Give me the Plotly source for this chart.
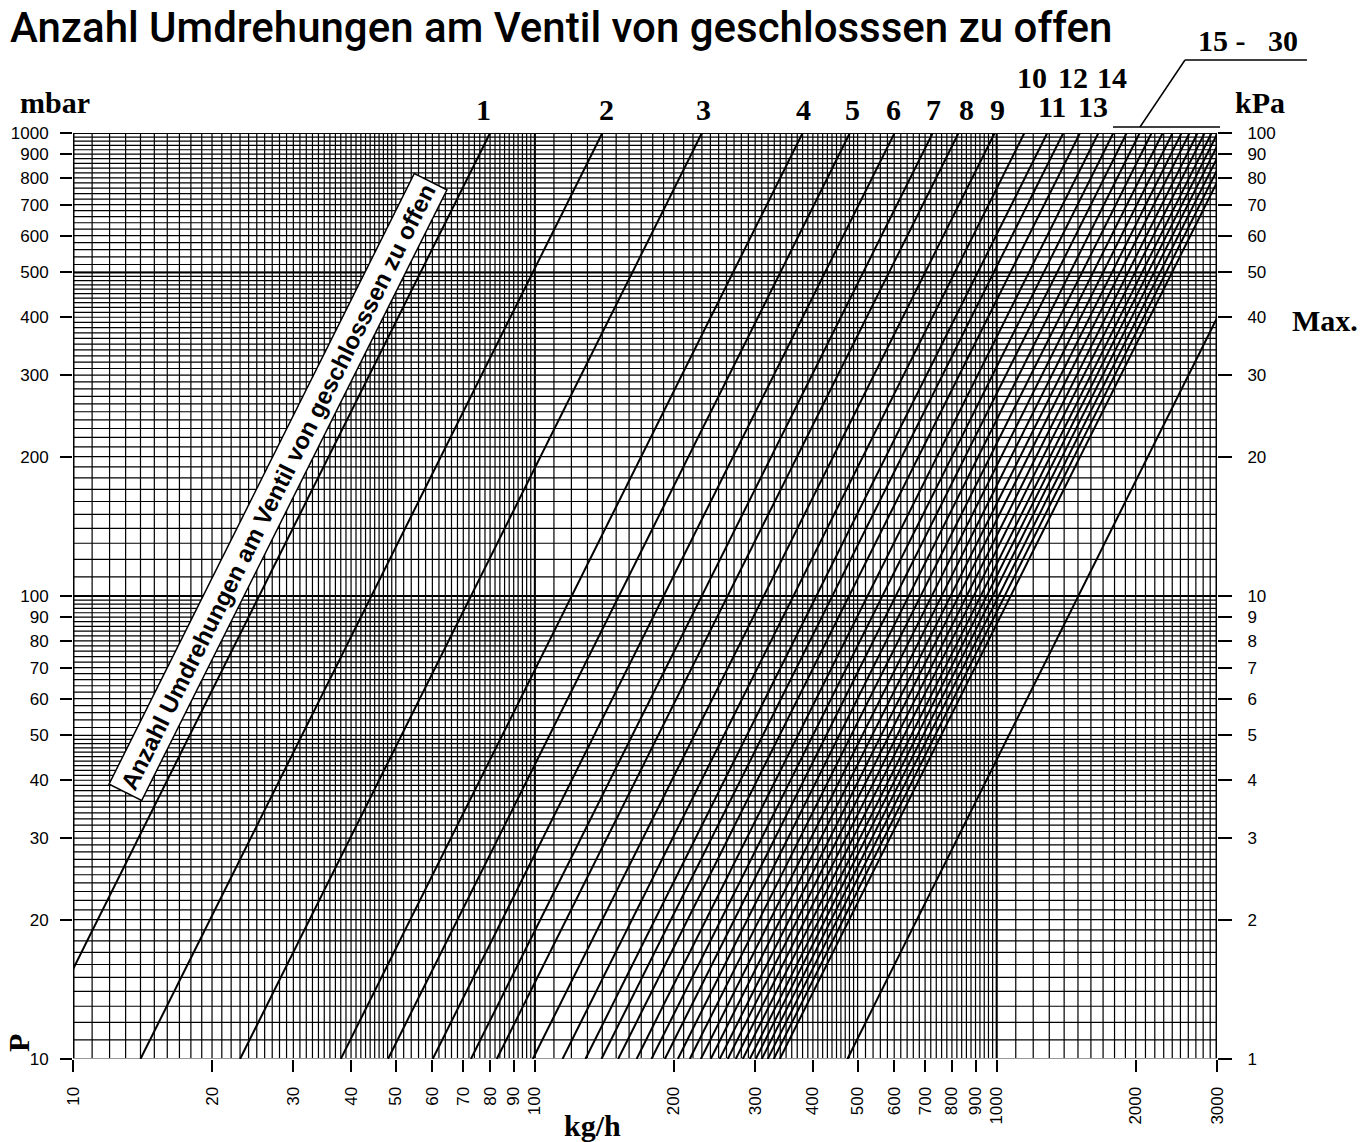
import plotly.graph_objects as go
import numpy as np

# ---------------- data ----------------
turn_labels = ["1", "2", "3", "4", "5", "6", "7", "8", "9", "10", "11", "12", "13", "14",
               "15", "16", "17", "18", "19", "20", "21", "22", "23", "24", "25", "26",
               "27", "28", "29", "30", "Max."]
# flow (kg/h) of each curve at 10 mbar and at 1000 mbar
q_at_10mbar = [8.0, 14.0, 23.0, 38.0, 48.1, 60.1, 72.7, 82.7, 99.0, 114.8, 128.7, 139.4,
               151.5, 166.1, 178.9, 191.2, 204.0, 216.5, 228.8, 240.4, 251.4, 261.7,
               272.3, 282.0, 292.0, 300.9, 310.0, 319.4, 329.1, 339.1, 475.2]
q_at_1000mbar = [80.0, 140.0, 230.0, 380.0, 481.0, 601.0, 727.0, 827.0, 990.0, 1148.0,
                 1287.0, 1394.0, 1515.0, 1661.0, 1789.0, 1912.0, 2040.0, 2165.0, 2288.0,
                 2404.0, 2514.0, 2617.0, 2723.0, 2820.0, 2920.0, 3009.0, 3100.0, 3194.0,
                 3291.0, 3391.0, 4752.0]
p_low = 10
p_high = 1000

x_ticks = [10, 20, 30, 40, 50, 60, 70, 80, 90, 100, 200, 300, 400, 500, 600, 700, 800,
           900, 1000, 2000, 3000]
y_ticks_mbar = [10, 20, 30, 40, 50, 60, 70, 80, 90, 100, 200, 300, 400, 500, 600, 700,
                800, 900, 1000]
y_ticks_kpa = [1, 2, 3, 4, 5, 6, 7, 8, 9, 10, 20, 30, 40, 50, 60, 70, 80, 90, 100]

title_text = "Anzahl Umdrehungen am Ventil von geschlosssen zu offen"

# ---------------- layout helpers ----------------
W, H = 1370, 1142
L, R, T, B = 73, 1217, 133, 1059


def px2x(px):
    return (px - L) / (R - L)


def py2y(py):
    return (B - py) / (B - T)


# grid values (log paper)
gx = list(range(10, 50, 1)) + list(range(50, 100, 2)) + list(range(100, 500, 10)) + \
    list(range(500, 1000, 20)) + list(range(1000, 3001, 100))
gy = list(range(10, 50, 1)) + list(range(50, 100, 2)) + list(range(100, 500, 10)) + \
    list(range(500, 1001, 20))

fig = go.Figure()

gxs, gys = [], []
for v in gx:
    gxs += [v, v, None]
    gys += [10, 1000, None]
for v in gy:
    gxs += [10, 3000, None]
    gys += [v, v, None]
fig.add_trace(go.Scatter(x=gxs, y=gys, mode="lines", line=dict(color="#000", width=1.2),
                         hoverinfo="skip", showlegend=False))

# heavier rulings
hx, hy = [], []
for v in [100, 1000]:
    hx += [v, v, None]
    hy += [10, 1000, None]
for v in [100, 500, 1000]:
    hx += [10, 3000, None]
    hy += [v, v, None]
fig.add_trace(go.Scatter(x=hx, y=hy, mode="lines", line=dict(color="#000", width=2),
                         hoverinfo="skip", showlegend=False))
# frame
fig.add_trace(go.Scatter(x=[10, 10, None, 3000, 3000], y=[10, 1000, None, 10, 1000],
                         mode="lines", line=dict(color="#000", width=3),
                         hoverinfo="skip", showlegend=False))
fig.add_trace(go.Scatter(x=[10, 3000], y=[10, 10], mode="lines",
                         line=dict(color="#999", width=2), hoverinfo="skip",
                         showlegend=False))

# curves
for lab, qa, qb in zip(turn_labels, q_at_10mbar, q_at_1000mbar):
    fig.add_trace(go.Scatter(x=[qa, qb], y=[p_low, p_high], mode="lines",
                             line=dict(color="#000", width=2), name=lab,
                             showlegend=False))

# invisible trace for kPa axis
fig.add_trace(go.Scatter(x=[10, 3000], y=[1, 100], yaxis="y2", mode="lines",
                         line=dict(width=0), opacity=0, hoverinfo="skip",
                         showlegend=False))

tickfont = dict(family="Liberation Sans", size=17, color="#000")
fig.update_layout(
    width=W, height=H,
    margin=dict(l=L, r=W - R, t=T, b=H - B, pad=0),
    paper_bgcolor="white", plot_bgcolor="white",
    showlegend=False,
    xaxis=dict(type="log", range=[1, np.log10(3000)], showgrid=False, zeroline=False,
               showline=False, ticks="outside", ticklen=12, tickwidth=1.5,
               tickcolor="#000", tickvals=x_ticks, ticktext=[str(v) for v in x_ticks],
               tickangle=-90, tickfont=tickfont, ticklabelstandoff=8),
    yaxis=dict(type="log", range=[1, 3], showgrid=False, zeroline=False, showline=False,
               ticks="outside", ticklen=12, tickwidth=1.5, tickcolor="#000",
               tickvals=y_ticks_mbar, ticktext=[str(v) for v in y_ticks_mbar],
               tickfont=tickfont, ticklabelstandoff=8),
    yaxis2=dict(type="log", range=[0, 2], overlaying="y", side="right", showgrid=False,
                zeroline=False, showline=False, ticks="outside", ticklen=14,
                tickwidth=1.5, tickcolor="#000", tickvals=y_ticks_kpa,
                ticktext=[str(v) for v in y_ticks_kpa], tickfont=tickfont,
                ticklabelstandoff=12),
)

serif = dict(family="Liberation Serif", size=30, color="#000", weight="bold")
ann = []
# title
ann.append(dict(text=title_text, xref="paper", yref="paper", x=px2x(8), y=py2y(28),
                xanchor="left", yanchor="middle", showarrow=False,
                font=dict(family="Roboto", size=42, color="#000", weight=500)))
# curve number labels
label_pos = {"1": (483, 110), "2": (606, 110), "3": (703, 110), "4": (803, 110),
             "5": (853, 110), "6": (893, 110), "7": (933, 110), "8": (966, 110),
             "9": (997, 110), "10": (1032, 77), "11": (1052, 107), "12": (1073, 77),
             "13": (1093, 107), "14": (1112, 77)}
for lab in turn_labels:
    if lab in label_pos:
        px, py = label_pos[lab]
        ann.append(dict(text=lab, xref="paper", yref="paper", x=px2x(px), y=py2y(py),
                        xanchor="center", yanchor="middle", showarrow=False, font=serif))
for txt, (px, py) in [("mbar", (55, 103)), ("kPa", (1260, 103)), ("Max.", (1325, 320)),
                      ("15 -   30", (1248, 40)), ("kg/h", (592, 1125))]:
    ann.append(dict(text=txt, xref="paper", yref="paper", x=px2x(px), y=py2y(py),
                    xanchor="center", yanchor="middle", showarrow=False, font=serif))
ann.append(dict(text="P", xref="paper", yref="paper", x=px2x(18), y=py2y(1043),
                xanchor="center", yanchor="middle", showarrow=False, textangle=-90,
                font=serif))
# diagonal boxed label
ann.append(dict(text=title_text, xref="paper", yref="paper", x=px2x(278), y=py2y(487),
                xanchor="center", yanchor="middle", showarrow=False,
                textangle=-np.degrees(np.arctan(2.0)),
                bgcolor="white", bordercolor="#000", borderwidth=1.5, borderpad=4,
                font=dict(family="Liberation Sans", size=24, color="#000", weight="bold")))
fig.update_layout(annotations=ann)

# bracket for 15 - 30
shapes = [
    dict(type="line", xref="paper", yref="paper", x0=px2x(1113), x1=px2x(1220),
         y0=py2y(127), y1=py2y(127), line=dict(color="#000", width=1.5)),
    dict(type="line", xref="paper", yref="paper", x0=px2x(1140), x1=px2x(1185),
         y0=py2y(127), y1=py2y(60), line=dict(color="#000", width=1.5)),
    dict(type="line", xref="paper", yref="paper", x0=px2x(1185), x1=px2x(1307),
         y0=py2y(60), y1=py2y(60), line=dict(color="#000", width=1.5)),
]
fig.update_layout(shapes=shapes)

fig.write_html("out.html", config={"displayModeBar": False},
               post_script="document.body.style.margin='0px';"
                           "document.body.style.overflow='hidden';")
